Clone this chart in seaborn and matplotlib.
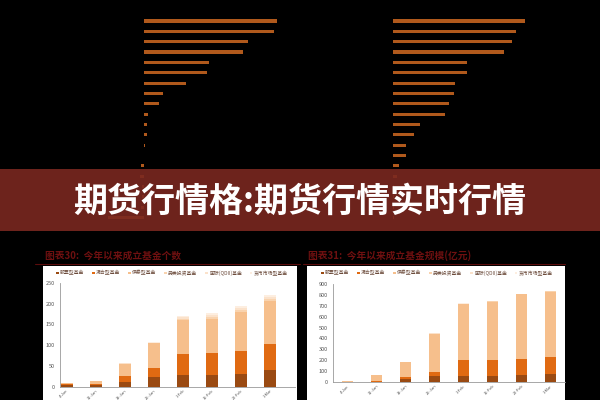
import numpy as np
import pandas as pd
import seaborn as sns
import matplotlib.pyplot as plt
from matplotlib.patches import Rectangle, Patch
from matplotlib.lines import Line2D

sns.set_theme(style="white")
plt.rcParams['font.family'] = ['Noto Sans CJK SC', 'DejaVu Sans']

# ---- data --------------------------------------------------------------
# top strip: two ranked bar lists (labels hidden in the thumbnail)
top_left_values = [133, 130, 104, 99, 65, 63, 42, 19, 15, 4, 2.7, 2.7, 0.5, 0,
                   -2.7, -4.5, -2, -2, -3, -36]
top_right_values = [132, 123, 119, 111, 74, 74, 62, 61, 56, 52, 27, 21, 13, 12.7,
                    5.7, 3.5, 0.8, 0.8, 0.8, 0.8]
top_left_items = ["a%02d" % i for i in range(len(top_left_values))]
top_right_items = ["b%02d" % i for i in range(len(top_right_values))]

banner_title = "期货行情格:期货行情实时行情"

dates = ["4-Jan", "11-Jan", "18-Jan", "25-Jan", "1-Feb", "15-Feb", "22-Feb", "1-Mar"]
fund_types = ["股票型基金", "混合型基金", "债券型基金", "另类投资基金", "国际(QDII)基金", "货币市场型基金"]

# 图表30: 今年以来成立基金个数
count_stock = [4, 3, 11, 23, 29, 29, 31, 40]
count_mixed = [2, 3, 15, 23, 50, 51, 56, 63]
count_bond = [2, 8, 28, 58, 81, 83, 93, 104]
count_alt = [0, 0, 1, 1, 3, 4, 4, 4]
count_qdii = [0, 0, 1, 1, 4, 5, 5, 5]
count_money = [0, 0, 0, 1, 3, 6, 5, 5]

# 图表31: 今年以来成立基金规模(亿元)
size_stock = [2, 3, 27, 55, 61, 61, 67, 76]
size_mixed = [2, 5, 25, 39, 146, 146, 149, 158]
size_bond = [8, 59, 130, 350, 507, 529, 586, 593]
size_alt = [0, 0, 0, 1, 2, 2, 2, 2]
size_qdii = [0, 0, 0, 1, 2, 2, 2, 2]
size_money = [0, 0, 0, 1, 2, 1, 2, 2]

fund_colors = ["#9A4A12", "#E06A12", "#F6BF8C", "#F9D3AE", "#FBE2CB", "#FDEEE0"]
bar_brown = "#B0591C"

W, H = 600, 400


def px_box(x0, y0, x1, y1):
    return [x0 / W, 1 - y1 / H, (x1 - x0) / W, (y1 - y0) / H]


fig = plt.figure(figsize=(6, 4), dpi=100, facecolor="black")

# ---- top ranked bars ---------------------------------------------------
ax_tl = fig.add_axes(px_box(0, 15.8, 300, 222.8))
sns.barplot(x=top_left_values, y=top_left_items, orient="h", color=bar_brown,
            saturation=1, width=0.3, linewidth=0, ax=ax_tl)
ax_tl.set_xlim(-144, 156)
ax_tl.axis("off")

ax_tr = fig.add_axes(px_box(300, 15.8, 600, 222.8))
sns.barplot(x=top_right_values, y=top_right_items, orient="h", color=bar_brown,
            saturation=1, width=0.3, linewidth=0, ax=ax_tr)
ax_tr.set_xlim(-93.3, 206.7)
ax_tr.axis("off")

# ---- banner --------------------------------------------------------------
fig.patches.append(Rectangle((0, 1 - 231 / H), 1, 62 / H, transform=fig.transFigure,
                             facecolor="#7A2820", edgecolor="none", linewidth=0,
                             alpha=0.9, zorder=5))
fig.text(0.5, 1 - 201 / H, banner_title, ha="center", va="center", color="white",
         fontsize=24.5, fontweight="heavy", zorder=6)


# ---- bottom stacked charts ---------------------------------------------
def stacked_panel(panel, plot_box, layers, ylim, yticks, xlim, title, title_xy,
                  line_x, legend_x):
    fig.patches.append(Rectangle((panel[0] / W, 0), (panel[1] - panel[0]) / W,
                                 1 - 266 / H, transform=fig.transFigure,
                                 facecolor="white", edgecolor="none", zorder=-1))
    ax = fig.add_axes(px_box(*plot_box))
    ax.set_facecolor("white")
    df = pd.DataFrame(np.array(layers).T, columns=fund_types, index=dates)
    cum = df.cumsum(axis=1)
    for name, c in reversed(list(zip(fund_types, fund_colors))):
        sns.barplot(x=dates, y=cum[name].values, color=c, saturation=1,
                    width=0.4, linewidth=0, ax=ax, errorbar=None)
    ax.set_ylim(*ylim)
    ax.set_yticks(yticks)
    ax.set_xlim(*xlim)
    for s in ["top", "right"]:
        ax.spines[s].set_visible(False)
    for s in ["left", "bottom"]:
        ax.spines[s].set_color("#999999")
        ax.spines[s].set_linewidth(0.6)
    ax.tick_params(axis="y", labelsize=4, colors="#555555", length=1.5, width=0.5, pad=2)
    ax.tick_params(axis="x", labelsize=2.9, colors="#555555", length=1.0, width=0.5, pad=0.3)
    plt.setp(ax.get_xticklabels(), rotation=45, ha="right", rotation_mode="anchor")
    ax.set_xlabel("")
    ax.set_ylabel("")

    handles = [Patch(facecolor=c, edgecolor="none") for c in fund_colors]
    fig.legend(handles, fund_types, loc="center", bbox_to_anchor=(legend_x / W, 1 - 273 / H),
               ncol=6, fontsize=3.5, frameon=False, handlelength=0.5, handleheight=0.5,
               handletextpad=0.3, columnspacing=1.6, labelcolor="#6b4a3a")

    fig.text(title_xy[0] / W, 1 - title_xy[1] / H, title, color="#6E1010",
             fontsize=7, fontweight="bold", ha="left", va="center", fontstyle="italic")
    fig.add_artist(Line2D([line_x[0] / W, line_x[1] / W], [1 - 264 / H, 1 - 264 / H],
                          transform=fig.transFigure, color="#5A0C0C", lw=0.8))
    return ax


stacked_panel((43, 297), (60, 282.7, 295, 386.7),
              [count_stock, count_mixed, count_bond, count_alt, count_qdii, count_money],
              (0, 250), range(0, 251, 50), (-0.23, 7.85),
              "图表30:  今年以来成立基金个数", (45, 256), (35, 300), 172)

stacked_panel((307, 565), (333, 283.7, 565, 382.3),
              [size_stock, size_mixed, size_bond, size_alt, size_qdii, size_money],
              (0, 900), range(0, 901, 100), (-0.5, 7.5),
              "图表31:  今年以来成立基金规模(亿元)", (308, 256), (303, 565), 437)

fig.savefig("out.png", dpi=100, facecolor="black")
